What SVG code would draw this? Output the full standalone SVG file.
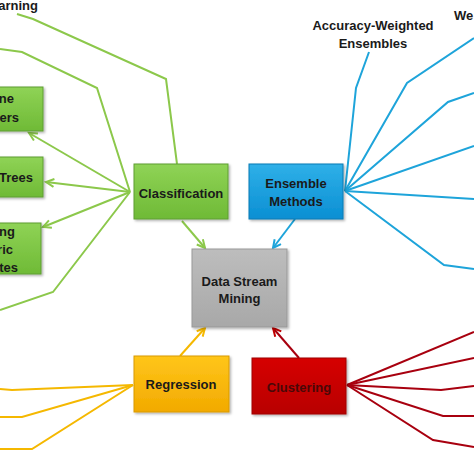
<svg xmlns="http://www.w3.org/2000/svg" width="474" height="474" viewBox="0 0 474 474">
<defs>
<linearGradient id="gG" x1="0" y1="0" x2="0" y2="1"><stop offset="0" stop-color="#8fd356"/><stop offset="1" stop-color="#6fba36"/></linearGradient>
<linearGradient id="gB" x1="0" y1="0" x2="0" y2="1"><stop offset="0" stop-color="#2fb0e8"/><stop offset="1" stop-color="#0a8fd3"/></linearGradient>
<linearGradient id="gS" x1="0" y1="0" x2="0" y2="1"><stop offset="0" stop-color="#bdbdbd"/><stop offset="1" stop-color="#a8a8a8"/></linearGradient>
<linearGradient id="gY" x1="0" y1="0" x2="0" y2="1"><stop offset="0" stop-color="#ffc61a"/><stop offset="1" stop-color="#f2aa00"/></linearGradient>
<linearGradient id="gR" x1="0" y1="0" x2="0" y2="1"><stop offset="0" stop-color="#d60000"/><stop offset="1" stop-color="#b80000"/></linearGradient>
<filter id="sh" x="-10%" y="-10%" width="130%" height="130%"><feDropShadow dx="1.5" dy="1.5" stdDeviation="1" flood-color="#000" flood-opacity="0.3"/></filter>
<marker id="aG" markerUnits="userSpaceOnUse" markerWidth="12" markerHeight="12" refX="9" refY="5" orient="auto"><path d="M1,1 L9,5 L1,9" fill="none" stroke="#8cc84b" stroke-width="2"/></marker>
<marker id="aB" markerUnits="userSpaceOnUse" markerWidth="12" markerHeight="12" refX="9" refY="5" orient="auto"><path d="M1,1 L9,5 L1,9" fill="none" stroke="#1ea4da" stroke-width="2"/></marker>
<marker id="aY" markerUnits="userSpaceOnUse" markerWidth="12" markerHeight="12" refX="9" refY="5" orient="auto"><path d="M1,1 L9,5 L1,9" fill="none" stroke="#f5b800" stroke-width="2"/></marker>
<marker id="aR" markerUnits="userSpaceOnUse" markerWidth="12" markerHeight="12" refX="9" refY="5" orient="auto"><path d="M1,1 L9,5 L1,9" fill="none" stroke="#c00000" stroke-width="2"/></marker>
</defs>
<style>
.t{font-family:"Liberation Sans",Arial,sans-serif;font-weight:bold;font-size:13px;fill:#1a1a1a}
.c{text-anchor:middle}
.e{text-anchor:end}
.lg{fill:none;stroke:#8cc84b;stroke-width:2;stroke-linejoin:miter}
.lb{fill:none;stroke:#1ea4da;stroke-width:2}
.ly{fill:none;stroke:#f5b800;stroke-width:2}
.lr{fill:none;stroke:#a8000f;stroke-width:2}
.bg{fill:url(#gG);stroke:#5f9e32;stroke-width:1;filter:url(#sh)}
.bb{fill:url(#gB);stroke:#0a7ab5;stroke-width:1;filter:url(#sh)}
.bs{fill:url(#gS);stroke:#999;stroke-width:1;filter:url(#sh)}
.by{fill:url(#gY);stroke:#d99a00;stroke-width:1;filter:url(#sh)}
.br{fill:url(#gR);stroke:#a00000;stroke-width:1;filter:url(#sh)}
</style>
<rect width="474" height="474" fill="#fff"/>

<g id="connectors">
<!-- green -->
<polyline class="lg" points="177,164 166,79 33,19 17,14"/>
<polyline class="lg" points="130,192 97,88 22,52 0,49"/>
<line class="lg" x1="130" y1="192" x2="29" y2="133" marker-end="url(#aG)"/>
<line class="lg" x1="130" y1="192" x2="46" y2="182" marker-end="url(#aG)"/>
<line class="lg" x1="130" y1="192" x2="43" y2="227" marker-end="url(#aG)"/>
<polyline class="lg" points="130,192 53,292 0,310"/>
<line class="lg" x1="182" y1="221" x2="205" y2="248" marker-end="url(#aG)"/>
<!-- blue -->
<polyline class="lb" points="345,191 356,88 369,52"/>
<polyline class="lb" points="345,191 407,83 474,38"/>
<polyline class="lb" points="345,191 448,102 474,93"/>
<line class="lb" x1="345" y1="191" x2="474" y2="146"/>
<line class="lb" x1="345" y1="191" x2="474" y2="199"/>
<polyline class="lb" points="345,191 444,265 474,269"/>
<line class="lb" x1="295" y1="219" x2="273" y2="248" marker-end="url(#aB)"/>
<!-- yellow -->
<polyline class="ly" points="133,385 12,390 0,389"/>
<polyline class="ly" points="133,385 22,417 0,417"/>
<polyline class="ly" points="133,385 32,449 0,449"/>
<line class="ly" x1="180" y1="356" x2="205" y2="328" marker-end="url(#aY)"/>
<!-- red -->
<line class="lr" x1="347" y1="385" x2="474" y2="332"/>
<line class="lr" x1="347" y1="385" x2="474" y2="358"/>
<polyline class="lr" points="347,385 441,390 474,386"/>
<polyline class="lr" points="347,385 443,416 474,416"/>
<polyline class="lr" points="347,385 433,440 474,447"/>
<line class="lr" x1="299" y1="358" x2="273" y2="328" marker-end="url(#aR)"/>
</g>

<g id="label-learning"><text class="t e" x="38" y="10" font-size="14">arning</text></g>
<g id="label-acc"><text class="t c" x="373" y="30">Accuracy-Weighted</text><text class="t c" x="373" y="48">Ensembles</text></g>
<g id="label-we"><text class="t" x="454" y="20">We</text></g>

<g id="node-box1"><rect class="bg" x="-10" y="87" width="53" height="44"/><text class="t e" x="14" y="103">ne</text><text class="t e" x="19" y="122">ers</text></g>
<g id="node-trees"><rect class="bg" x="-10" y="157" width="53" height="40"/><text class="t e" x="33" y="182">Trees</text></g>
<g id="node-box3"><rect class="bg" x="-10" y="223" width="51" height="51"/><text class="t e" x="15" y="236">ng</text><text class="t e" x="13" y="254">ric</text><text class="t e" x="18" y="272">tes</text></g>

<g id="node-classification"><rect class="bg" x="134" y="164" width="94" height="55"/><text class="t c" x="181" y="198">Classification</text></g>
<g id="node-ensemble"><rect class="bb" x="249" y="164" width="94" height="55"/><text class="t c" x="296" y="188">Ensemble</text><text class="t c" x="296" y="206">Methods</text></g>
<g id="node-dsm"><rect class="bs" x="192" y="249" width="95" height="78"/><text class="t c" x="239.5" y="286" font-size="13.5">Data Stream</text><text class="t c" x="239.5" y="303" font-size="13.5">Mining</text></g>
<g id="node-regression"><rect class="by" x="134" y="356" width="95" height="56"/><text class="t c" x="181" y="389">Regression</text></g>
<g id="node-clustering"><rect class="br" x="252" y="358" width="94" height="56"/><text class="t c" x="299" y="392" style="fill:#4a0808">Clustering</text></g>
</svg>
